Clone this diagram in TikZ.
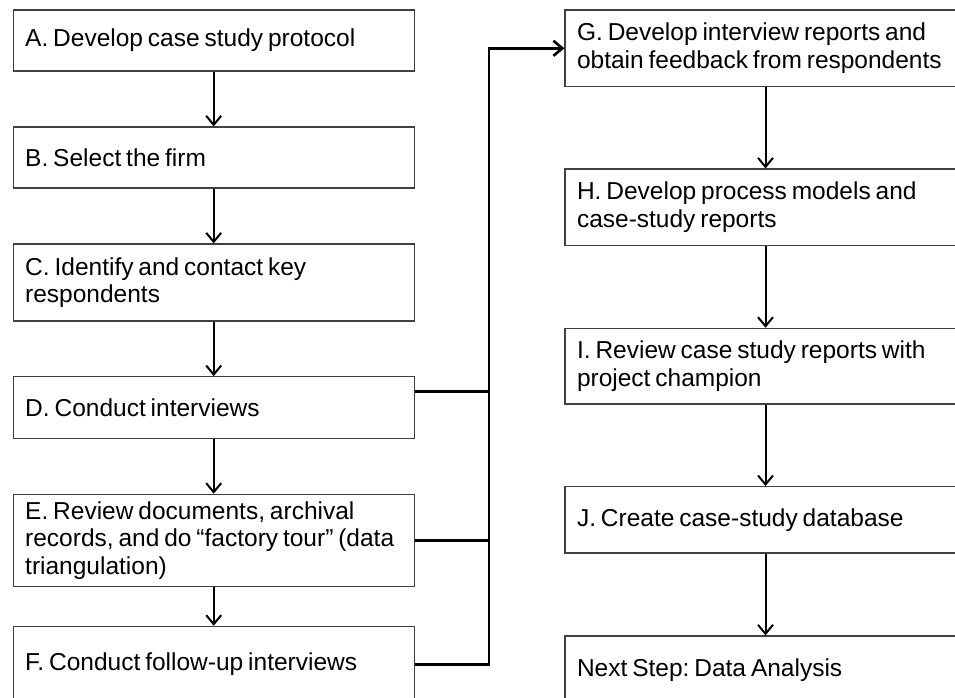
\documentclass[tikz,border=0pt]{standalone}
\usepackage{fontspec}
\setmainfont{Liberation Sans}
\usetikzlibrary{arrows.meta,calc}
\definecolor{boxgray}{HTML}{404040}
\newcommand\ts{\frenchspacing\spaceskip=0.2em plus 0.05em\relax\xspaceskip=0.2em plus 0.05em\relax}
\begin{document}
\begin{tikzpicture}[x=1pt,y=-1pt,
  box/.style={draw=boxgray, line width=1.2pt, minimum width=401pt, text width=377pt,
    inner xsep=12pt, inner ysep=0pt, align=left, font=\fontsize{24.5}{27.6}\selectfont},
  flow/.style={line width=2pt, -{Straight Barb[length=9pt,width=15pt,line width=2pt]}},
  conn/.style={line width=2.6pt}]
\useasboundingbox (0,0) rectangle (955,698);
\clip (0,0) rectangle (955,698);
\node[box, minimum height=61pt] (A) at (213.7,40.5) {\ts A. Develop case study protocol};
\node[box, minimum height=61pt] (B) at (213.7,157.5) {\ts B. Select the firm};
\node[box, minimum height=77pt] (C) at (213.7,282.5) {\ts C. Identify and contact key\\respondents};
\node[box, minimum height=62pt] (D) at (213.7,407.7) {\ts D. Conduct interviews};
\node[box, minimum height=92pt] (E) at (213.7,540.3) {\ts E. Review documents, archival\\records, and do “factory tour” (data\\triangulation)};
\node[box, minimum height=76pt] (F) at (213.7,664.3) {\ts F. Conduct follow-up interviews};
\node[box, minimum height=76.7pt] (G) at (765.5,48.3) {\ts G. Develop interview reports and\\obtain feedback from respondents};
\node[box, minimum height=76.3pt] (H) at (765.5,207.2) {\ts H. Develop process models and\\case-study reports};
\node[box, minimum height=75.7pt] (I) at (765.5,366.2) {\ts I. Review case study reports with\\project champion};
\node[box, minimum height=66.3pt] (J) at (765.5,519.8) {\ts J. Create case-study database};
\node[box, minimum height=68pt] (K) at (765.5,670) {\ts Next Step: Data Analysis};
\draw[flow] (A) -- (B);
\draw[flow] (B) -- (C);
\draw[flow] (C) -- (D);
\draw[flow] (D) -- (E);
\draw[flow] (E) -- (F);
\draw[flow] (G) -- (H);
\draw[flow] (H) -- (I);
\draw[flow] (I) -- (J);
\draw[flow] (J) -- (K);
\coordinate (bus) at (489,48.3);
\coordinate (Dout) at ([yshift=16.4pt]D.east);
\draw[conn, -{Straight Barb[length=9pt,width=15pt,line width=2.6pt]}] (F.east) -| (bus) -- (G.west);
\draw[conn] (E.east) -- (E.east -| bus);
\draw[conn] (Dout) -- (Dout -| bus);
\end{tikzpicture}
\end{document}
